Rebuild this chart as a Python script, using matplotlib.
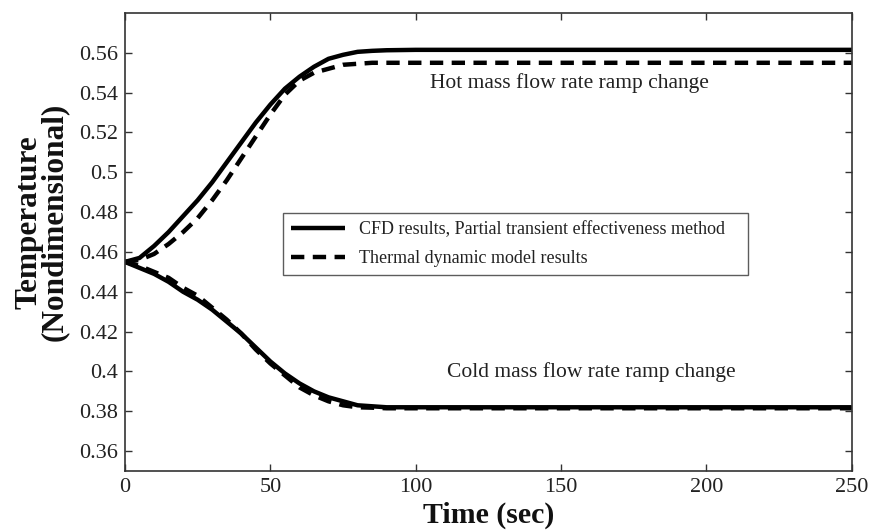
import matplotlib
matplotlib.use("Agg")
import matplotlib.pyplot as plt

# Time samples (s)
time = [0, 5, 10, 15, 20, 25, 30, 35, 40, 45, 50, 55, 60, 65, 70, 75, 80, 85, 90,
        100, 120, 150, 200, 250]

# Hot mass flow rate ramp change
hot_cfd = [0.455, 0.457, 0.463, 0.470, 0.478, 0.486, 0.495, 0.505, 0.515, 0.525,
           0.534, 0.542, 0.548, 0.553, 0.557, 0.559, 0.5605, 0.561, 0.5613,
           0.5615, 0.5615, 0.5615, 0.5615, 0.5615]
hot_model = [0.455, 0.456, 0.459, 0.464, 0.470, 0.477, 0.486, 0.496, 0.507, 0.518,
             0.529, 0.539, 0.546, 0.550, 0.552, 0.554, 0.5545, 0.555, 0.555,
             0.555, 0.555, 0.555, 0.555, 0.555]

# Cold mass flow rate ramp change
cold_cfd = [0.455, 0.452, 0.449, 0.445, 0.440, 0.436, 0.431, 0.425, 0.419, 0.412,
            0.405, 0.399, 0.394, 0.390, 0.387, 0.385, 0.383, 0.3825, 0.382,
            0.382, 0.382, 0.382, 0.382, 0.382]
cold_model = [0.455, 0.453, 0.450, 0.447, 0.442, 0.438, 0.432, 0.426, 0.419, 0.411,
              0.404, 0.398, 0.392, 0.388, 0.385, 0.383, 0.382, 0.3818, 0.3815,
              0.3815, 0.3815, 0.3815, 0.3815, 0.3815]

x_ticks = [0, 50, 100, 150, 200, 250]
y_ticks = [0.36, 0.38, 0.40, 0.42, 0.44, 0.46, 0.48, 0.50, 0.52, 0.54, 0.56]
y_tick_labels = ["0.36", "0.38", "0.4", "0.42", "0.44", "0.46", "0.48", "0.5",
                 "0.52", "0.54", "0.56"]

plt.rcParams["font.family"] = ["Liberation Serif", "DejaVu Serif"]

fig = plt.figure(figsize=(8.71, 5.31), dpi=100)
ax = fig.add_axes([0.1435, 0.113, 0.8345, 0.8625])

lw = 3.2
dash = (3.0, 1.9)
ax.plot(time, hot_cfd, color="black", lw=lw, solid_capstyle="butt",
        label="CFD results, Partial transient effectiveness method")
ax.plot(time, hot_model, color="black", lw=lw, dashes=dash,
        label="Thermal dynamic model results")
ax.plot(time, cold_cfd, color="black", lw=lw, solid_capstyle="butt")
ax.plot(time, cold_model, color="black", lw=lw, dashes=dash)

ax.set_xlim(0, 250)
ax.set_ylim(0.35, 0.58)
ax.set_xticks(x_ticks)
ax.set_yticks(y_ticks)
ax.set_yticklabels(y_tick_labels)
ax.tick_params(direction="in", length=5, width=1, color="#333333",
               top=True, right=True, labelsize=16, labelcolor="#222222", pad=5)

for s in ax.spines.values():
    s.set_color("#333333")
    s.set_linewidth(1.2)

ax.set_xlabel("Time (sec)", fontsize=21.5, fontweight="bold", color="#111111")
ax.xaxis.set_label_coords(0.5, -0.068)
ax.set_ylabel("Temperature\n(Nondimensional)", fontsize=22.5, fontweight="bold",
              color="#111111", linespacing=0.82)
ax.yaxis.set_label_coords(-0.077, 0.544)

ax.text(105, 0.545, "Hot mass flow rate ramp change", fontsize=15.5,
        color="#222222", va="center", ha="left")
ax.text(110.7, 0.3997, "Cold mass flow rate ramp change", fontsize=15.5,
        color="#222222", va="center", ha="left")

leg = ax.legend(loc="upper left", bbox_to_anchor=(0.217, 0.30, 0.6396, 0.2633),
                mode="expand", fontsize=13, frameon=True, fancybox=False,
                handlelength=3.0, borderpad=0.45, labelspacing=0.65,
                handletextpad=0.8, borderaxespad=0)
leg.get_frame().set_edgecolor("#333333")
leg.get_frame().set_linewidth(1.0)
for t in leg.get_texts():
    t.set_color("#222222")

fig.savefig("out.png", dpi=100)
